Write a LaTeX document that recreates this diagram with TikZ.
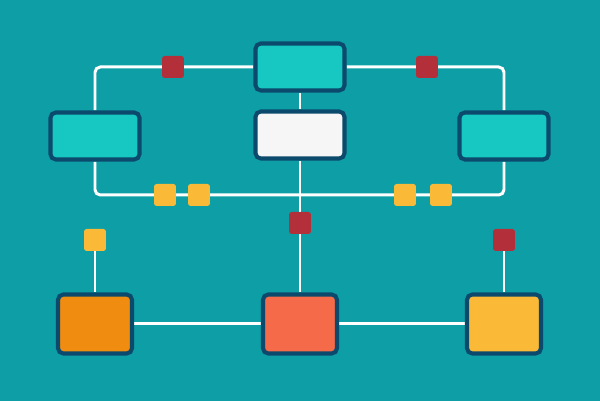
\documentclass[tikz,border=0pt]{standalone}
\usepackage{tikz}
\usetikzlibrary{positioning,backgrounds}
\definecolor{sfondo}{HTML}{0E9EA6}
\definecolor{acqua}{HTML}{16C8C1}
\definecolor{notte}{HTML}{0B4A6C}
\definecolor{bianco}{HTML}{F6F6F6}
\definecolor{arancio}{HTML}{F08C10}
\definecolor{corallo}{HTML}{F56A48}
\definecolor{giallo}{HTML}{FBB938}
\definecolor{rosso}{HTML}{B3303A}
\tikzset{
  box/.style={draw=notte, line width=2.3pt, rounded corners=3pt, inner sep=0pt,
    minimum width=1.78cm, minimum height=0.94cm},
  bigbox/.style={box, minimum width=1.48cm, minimum height=1.18cm},
  tiny/.style={rounded corners=1.5pt, inner sep=0pt, minimum size=0.44cm},
  wire/.style={draw=white, line width=1.7pt, rounded corners=3pt}
}

\begin{document}
\begin{tikzpicture}[x=0.02cm, y=-0.02cm]
    \useasboundingbox (0,0) rectangle (600,401);
    %riquadri in alto
    \node[box, fill=acqua] (T) at (300,67) {};
    \node[box, fill=bianco] (W) at (300,135) {};
    \node[box, fill=acqua] (L) at (95,136) {};
    \node[box, fill=acqua] (R) at (504,136) {};
    %riquadri in basso
    \node[bigbox, fill=arancio] (BL) at (95,324) {};
    \node[bigbox, fill=corallo] (BM) at (300,324) {};
    \node[bigbox, fill=giallo] (BR) at (504,324) {};
    %quadratini
    \node[tiny, fill=rosso] (rA) at (173,67) {};
    \node[tiny, fill=rosso] (rB) at (427,67) {};
    \node[tiny, fill=giallo] (yA) at (165,195) {};
    \node[tiny, fill=giallo] (yB) at (199,195) {};
    \node[tiny, fill=giallo] (yC) at (405,195) {};
    \node[tiny, fill=giallo] (yD) at (441,195) {};
    \node[tiny, fill=rosso] (rC) at (300,223) {};
    \node[tiny, fill=giallo] (yE) at (95,240) {};
    \node[tiny, fill=rosso] (rD) at (504,240) {};
    %angoli
    \coordinate (c1) at (95,67);
    \coordinate (c2) at (504,67);
    \coordinate (c3) at (95,195);
    \coordinate (c4) at (504,195);
    \begin{scope}[on background layer]
      \fill[sfondo] (0,0) rectangle (600,401);
      %anello
      \draw[wire] (T.west) -- (c1) -- (L.north);
      \draw[wire] (T.east) -- (c2) -- (R.north);
      \draw[wire] (L.south) -- (c3) -- (c4) -- (R.south);
      %asse centrale
      \draw[wire] (T.south) -- (W.north);
      \draw[wire] (W.south) -- (rC) -- (BM.north);
      %fila in basso
      \draw[wire] (BL.east) -- (BM.west);
      \draw[wire] (BM.east) -- (BR.west);
      \draw[wire] (yE) -- (BL.north);
      \draw[wire] (rD) -- (BR.north);
    \end{scope}
\end{tikzpicture}
\end{document}
